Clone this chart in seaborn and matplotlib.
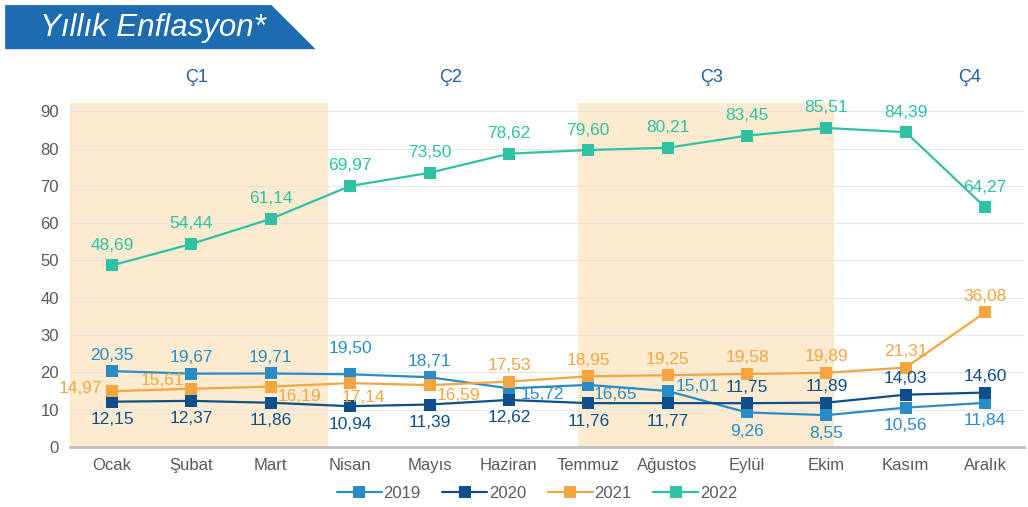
import matplotlib
matplotlib.use("Agg")
import matplotlib.pyplot as plt
import matplotlib.patches as mpatches
import seaborn as sns
import pandas as pd

months = ["Ocak", "Şubat", "Mart", "Nisan", "Mayıs", "Haziran", "Temmuz",
          "Ağustos", "Eylül", "Ekim", "Kasım", "Aralık"]
y2019 = [20.35, 19.67, 19.71, 19.50, 18.71, 15.72, 16.65, 15.01, 9.26, 8.55, 10.56, 11.84]
y2020 = [12.15, 12.37, 11.86, 10.94, 11.39, 12.62, 11.76, 11.77, 11.75, 11.89, 14.03, 14.60]
y2021 = [14.97, 15.61, 16.19, 17.14, 16.59, 17.53, 18.95, 19.25, 19.58, 19.89, 21.31, 36.08]
y2022 = [48.69, 54.44, 61.14, 69.97, 73.50, 78.62, 79.60, 80.21, 83.45, 85.51, 84.39, 64.27]
years = ["2019", "2020", "2021", "2022"]
quarters = ["Ç1", "Ç2", "Ç3", "Ç4"]
title = "Yıllık Enflasyon*"

series = {"2019": y2019, "2020": y2020, "2021": y2021, "2022": y2022}
rows = []
for yr, vals in series.items():
    for i, v in enumerate(vals):
        rows.append({"x": i, "month": months[i], "year": yr, "value": v})
df = pd.DataFrame(rows)

colors = {"2019": "#2A8CC6", "2020": "#0D4F8B", "2021": "#F3A53F", "2022": "#2EC1A4"}

# label offsets in pixels (dx, dy, ha) relative to the marker centre; dy positive = up
U = (0, 16, "center"); D = (0, -18, "center"); U2 = (0, 20, "center")
offsets = {
    "2019": [U, U, U, (0, 26, "center"), U, (12, -6, "left"), (5, -10, "left"), (8, 5, "left"),
             (0, -19, "center"), D, D, D],
    "2020": [D, D, D, D, D, D, D, D, (0, 16, "center"), (0, 16, "center"), U, U],
    "2021": [(-10, 3, "right"), (-7, 8, "right"), (7, -10, "left"), (13, -14, "center"),
             (7, -10, "left"), U, U, U, U, U, U, U],
    "2022": [U2] * 12,
}

sns.set_theme(style="white")
plt.rcParams["font.family"] = ["Liberation Sans", "DejaVu Sans"]

DPI = 100
fig = plt.figure(figsize=(10.28, 5.07), dpi=DPI)
ax = fig.add_axes([0.0681, 0.1183, 0.928, 0.6785])

ax.axvspan(-0.53, 2.72, color="#FDEBD0", zorder=0, lw=0)
ax.axvspan(5.87, 9.10, color="#FDEBD0", zorder=0, lw=0)

sns.lineplot(data=df, x="x", y="value", hue="year", palette=colors, marker="s",
             markersize=8, markeredgewidth=0, linewidth=1.6, ax=ax, legend=True, zorder=3)

px = 72.0 / DPI
for yr, vals in series.items():
    for i, v in enumerate(vals):
        dx, dy, ha = offsets[yr][i]
        ax.annotate(f"{v:.2f}".replace(".", ","), (i, v), xytext=(dx * px, dy * px),
                    textcoords="offset points", ha=ha, va="center", fontsize=12.5,
                    color=colors[yr], zorder=4, annotation_clip=False)

ax.set_xlim(-0.53, 11.49)
ax.set_ylim(0, 92.2)
ax.set_yticks(range(0, 91, 10))
ax.set_xticks(range(12))
ax.set_xticklabels(months)
ax.grid(axis="y", color="#E6E6E6", lw=0.8)
ax.set_axisbelow(True)
for s in ["top", "right", "left"]:
    ax.spines[s].set_visible(False)
ax.spines["bottom"].set_color("#BFBFBF")
ax.spines["bottom"].set_linewidth(2)
ax.tick_params(axis="both", colors="#595959", labelsize=12, length=0, pad=8)
ax.set_xlabel("")
ax.set_ylabel("")

# quarter labels
qpos = [1.06, 4.26, 7.55, 10.81]
for q, p in zip(quarters, qpos):
    ax.text(p, 1.073, q, transform=ax.get_xaxis_transform(), ha="center", va="center",
            fontsize=13, color="#1F5F9A")

leg = ax.legend(loc="center", bbox_to_anchor=(0.4895, -0.134), ncol=4, frameon=False,
                fontsize=12, handlelength=2.7, columnspacing=1.3, handletextpad=0.1)
for t in leg.get_texts():
    t.set_color("#595959")

# title banner
banner = mpatches.Polygon([(0.005, 0.903), (0.307, 0.903), (0.264, 0.99), (0.005, 0.99)],
                          closed=True, transform=fig.transFigure, facecolor="#1D6CB0",
                          edgecolor="none")
fig.patches.append(banner)
fig.text(0.039, 0.945, title, color="white", fontsize=22.5, style="italic",
         ha="left", va="center")

fig.savefig("out.png", dpi=DPI)
